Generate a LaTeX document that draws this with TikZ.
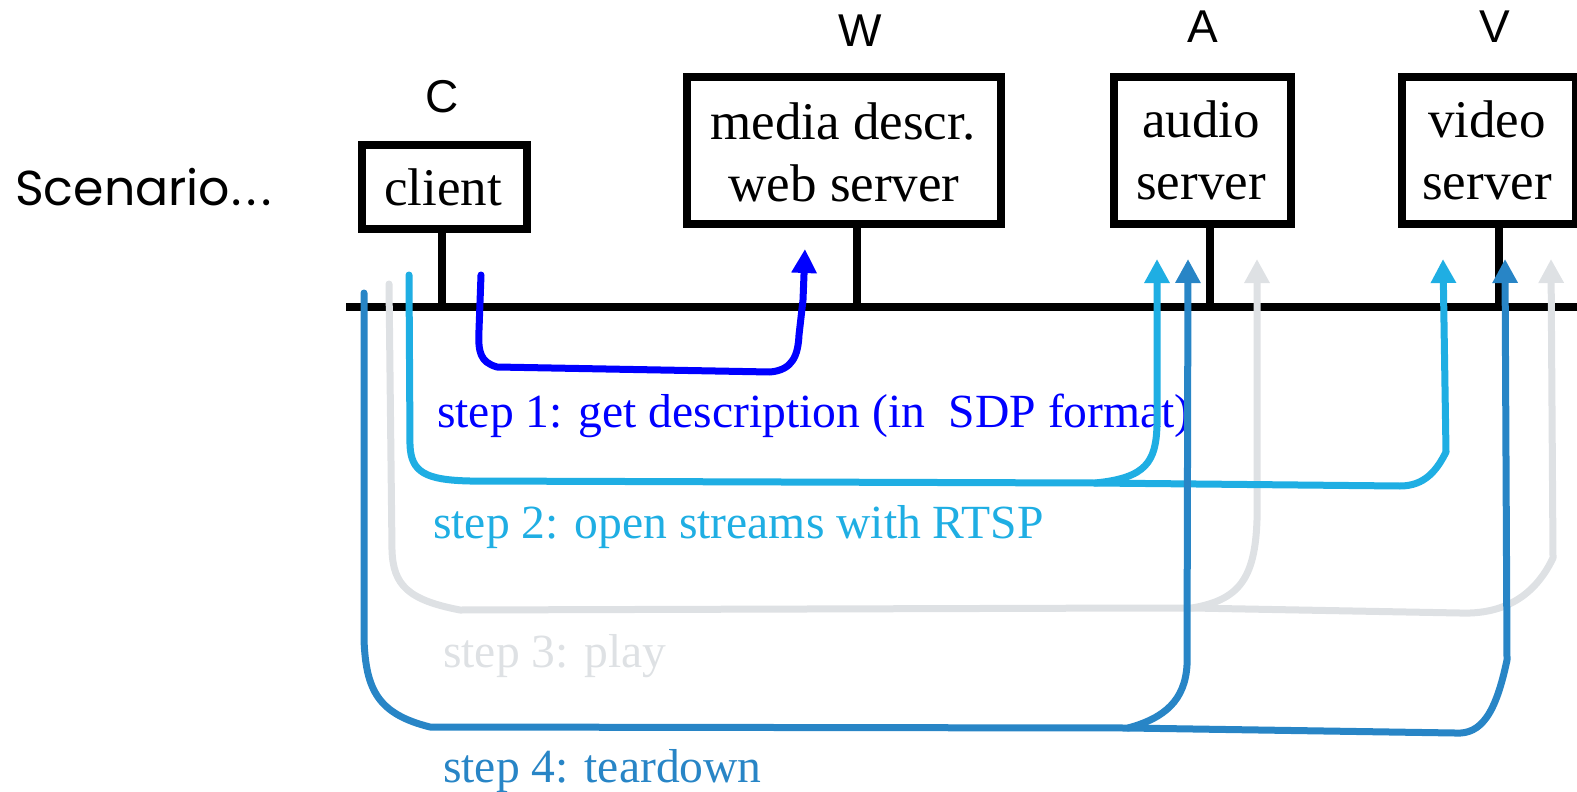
\documentclass[tikz,border=0pt]{standalone}
\usepackage{fontspec}
\setmainfont{Liberation Serif}
\newfontfamily\labelfont{Liberation Sans}
\newfontfamily\titlefont{Poppins}
\usetikzlibrary{arrows.meta}
\definecolor{stepone}{RGB}{0,0,255}
\definecolor{steptwo}{RGB}{31,174,227}
\definecolor{stepthree}{RGB}{222,225,228}
\definecolor{stepfour}{RGB}{40,133,198}

\begin{document}
\begin{tikzpicture}[x=1pt,y=-1pt,
  hostbox/.style={draw, line width=8pt, inner sep=0pt},
  wire/.style={line width=7.5pt},
  flow/.style={line width=7pt, line cap=round, line join=round},
  tipped/.style={-{Triangle[width=24pt,length=24pt]}},
  boxtext/.style={font=\fontsize{53}{55}\selectfont, anchor=base, inner sep=0pt},
  hostname/.style={font=\labelfont\fontsize{46}{50}\selectfont, anchor=base, inner sep=0pt},
  steptext/.style={font=\fontsize{47.6}{50}\selectfont, anchor=base west, inner sep=0pt}]

\useasboundingbox (0,0) rectangle (1577,792);

% hosts
\node[hostbox, minimum width=165pt, minimum height=84pt] (client) at (444,186.5) {};
\node[hostbox, minimum width=314pt, minimum height=147pt] (web) at (844,150.5) {};
\node[hostbox, minimum width=177pt, minimum height=147pt] (audio) at (1202.5,150.5) {};
\node[hostbox, minimum width=174pt, minimum height=147pt] (video) at (1489,150.5) {};

\node[boxtext] (clientlbl) at (443,205) {client};
\node[boxtext] (weblbla) at (843,139) {media descr.};
\node[boxtext] (weblblb) at (844,201) {web server};
\node[boxtext] (audiolbla) at (1201,137) {audio};
\node[boxtext] (audiolblb) at (1201,199) {server};
\node[boxtext] (videolbla) at (1487,137) {video};
\node[boxtext] (videolblb) at (1487,199) {server};

\node[hostname] (nameC) at (442,112) {C};
\node[hostname] (nameW) at (860,47) {W};
\node[hostname] (nameA) at (1203,43) {A};
\node[hostname] (nameV) at (1495,43) {V};

\node[anchor=base west, inner sep=0pt, font=\titlefont\fontsize{49}{49}\selectfont] (title) at (15,205) {Scenario\kern1pt.\kern5pt.\kern5pt.};

% network bus and host attachments
\coordinate (busL) at (346,307);
\coordinate (busR) at (1580,307);
\coordinate (busC) at (442,307);
\coordinate (busW) at (857,307);
\coordinate (busA) at (1210,307);
\coordinate (busV) at (1499,307);
\draw[wire] (busL) -- (busR);
\draw[wire] (client.south -| busC) -- (busC);
\draw[wire] (web.south -| busW) -- (busW);
\draw[wire] (audio.south -| busA) -- (busA);
\draw[wire] (video.south -| busV) -- (busV);

% step labels
\node[steptext, text=stepone] (lblone) at (437,427) {step 1: get description (in\ \ SDP format)};
\node[steptext, text=steptwo] (lbltwo) at (433,538) {step 2: open streams with RTSP};
\node[steptext, text=stepthree] (lblthree) at (443,667) {step 3: play};
\node[steptext, text=stepfour] (lblfour) at (443,782) {step 4: teardown};

% message flow end points
\coordinate (oneS) at (481,275);
\coordinate (oneE) at (805,249);
\coordinate (twoS) at (409,275);
\coordinate (twoJ) at (1095,483);
\coordinate (twoA) at (1157,259);
\coordinate (twoV) at (1443,259);
\coordinate (threeS) at (389,284);
\coordinate (threeJ) at (1192,608);
\coordinate (threeA) at (1257,259);
\coordinate (threeV) at (1551,259);
\coordinate (fourS) at (364,293);
\coordinate (fourJ) at (1128,728);
\coordinate (fourA) at (1188,259);
\coordinate (fourV) at (1505,259);

% step 3: play
\draw[flow, stepthree, tipped] (threeS) -- (392,550) .. controls (393,585) and (408,600) .. (460,610)
  -- (1150,608) -- (threeJ) .. controls (1238,600) and (1255,580) .. (1257,520) -- (threeA);
\draw[flow, stepthree, tipped] (threeJ) -- (1460,613) .. controls (1515,615) and (1540,585) .. (1553,558) -- (threeV);

% step 2: open streams
\draw[flow, steptwo, tipped] (twoS) -- (410,445) .. controls (411,472) and (425,480) .. (470,481)
  -- (twoJ) .. controls (1146,478) and (1156,462) .. (1157,425) -- (twoA);
\draw[flow, steptwo, tipped] (twoJ) -- (1400,486) .. controls (1425,486) and (1437,470) .. (1446,452) -- (twoV);

% step 4: teardown
\draw[flow, stepfour, tipped] (fourS) -- (364,640) .. controls (366,690) and (378,714) .. (430,727)
  -- (fourJ) .. controls (1165,718) and (1185,700) .. (1187,665) -- (fourA);
\draw[flow, stepfour, tipped] (fourJ) -- (1455,733) .. controls (1482,735) and (1496,712) .. (1507,660) -- (fourV);

% step 1: get description
\draw[flow, stepone, tipped] (oneS) -- (479,330) .. controls (478,352) and (480,362) .. (497,367)
  -- (770,372) .. controls (793,370) and (798,355) .. (799,335) -- (803,300) -- (oneE);
\end{tikzpicture}
\end{document}
